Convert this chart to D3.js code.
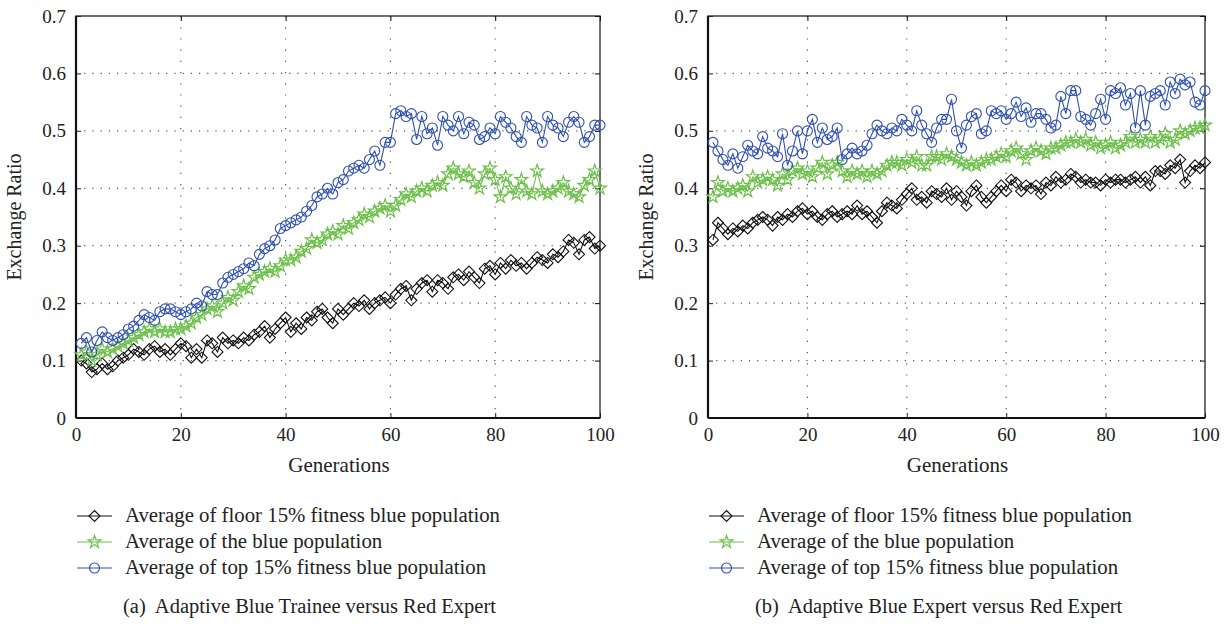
<!DOCTYPE html>
<html>
<head>
<meta charset="utf-8">
<script src="https://cdn.jsdelivr.net/npm/d3@7"></script>
<style>
  body { margin: 0; background: #fff; }
  svg text { font-family: "Liberation Serif", "DejaVu Serif", serif; fill: #222; white-space: pre; }
</style>
</head>
<body>
<div id="chart"></div>
<script>
// generations 1..100
const generations = d3.range(1, 101);
const xTicks = [0, 20, 40, 60, 80, 100];
const yTicks = [0, 0.1, 0.2, 0.3, 0.4, 0.5, 0.6, 0.7];
const seriesNames = [
  "Average of floor 15% fitness blue population",
  "Average of the blue population",
  "Average of top 15% fitness blue population"
];
const captions = [
  "(a)  Adaptive Blue Trainee versus Red Expert",
  "(b)  Adaptive Blue Expert versus Red Expert"
];

// (a) trainee vs expert
const aFloor = [
  0.10, 0.095, 0.08, 0.085, 0.095, 0.085, 0.09, 0.10, 0.105, 0.11,
  0.12, 0.115, 0.11, 0.12, 0.125, 0.115, 0.12, 0.11, 0.12, 0.13,
  0.125, 0.105, 0.12, 0.105, 0.135, 0.13, 0.115, 0.14, 0.13, 0.135,
  0.13, 0.14, 0.135, 0.145, 0.15, 0.16, 0.14, 0.155, 0.165, 0.175,
  0.15, 0.165, 0.155, 0.175, 0.17, 0.185, 0.19, 0.175, 0.165, 0.19,
  0.18, 0.19, 0.2, 0.195, 0.205, 0.19, 0.2, 0.205, 0.21, 0.2,
  0.215, 0.225, 0.23, 0.205, 0.225, 0.235, 0.24, 0.22, 0.24, 0.235,
  0.225, 0.245, 0.25, 0.24, 0.255, 0.245, 0.235, 0.26, 0.265, 0.25,
  0.27, 0.26, 0.275, 0.265, 0.27, 0.26, 0.27, 0.28, 0.275, 0.27,
  0.285, 0.28, 0.29, 0.31, 0.305, 0.285, 0.31, 0.315, 0.295, 0.30
];
const aMean = [
  0.11, 0.115, 0.10, 0.11, 0.12, 0.115, 0.12, 0.125, 0.13, 0.135,
  0.14, 0.145, 0.15, 0.155, 0.15, 0.155, 0.15, 0.15, 0.155, 0.155,
  0.16, 0.165, 0.175, 0.18, 0.19, 0.195, 0.185, 0.2, 0.21, 0.205,
  0.22, 0.23, 0.225, 0.245, 0.25, 0.255, 0.26, 0.255, 0.265, 0.275,
  0.275, 0.28, 0.29, 0.295, 0.31, 0.305, 0.31, 0.32, 0.325, 0.32,
  0.335, 0.33, 0.34, 0.345, 0.355, 0.35, 0.36, 0.365, 0.37, 0.36,
  0.37, 0.38, 0.39, 0.385, 0.395, 0.40, 0.395, 0.405, 0.41, 0.405,
  0.425, 0.435, 0.425, 0.42, 0.43, 0.41, 0.40, 0.425, 0.435, 0.415,
  0.385, 0.42, 0.40, 0.39, 0.415, 0.395, 0.39, 0.43, 0.395, 0.39,
  0.395, 0.40, 0.41, 0.395, 0.39, 0.385, 0.405, 0.415, 0.43, 0.40
];
const aTop = [
  0.13, 0.14, 0.115, 0.135, 0.15, 0.14, 0.135, 0.14, 0.145, 0.155,
  0.16, 0.17, 0.18, 0.175, 0.17, 0.185, 0.19, 0.19, 0.185, 0.18,
  0.185, 0.19, 0.2, 0.195, 0.22, 0.215, 0.215, 0.235, 0.245, 0.25,
  0.255, 0.26, 0.27, 0.265, 0.285, 0.295, 0.3, 0.31, 0.33, 0.335,
  0.34, 0.345, 0.35, 0.36, 0.37, 0.385, 0.39, 0.4, 0.39, 0.41,
  0.415, 0.43, 0.435, 0.44, 0.435, 0.45, 0.465, 0.44, 0.48, 0.48,
  0.53, 0.535, 0.525, 0.53, 0.485, 0.525, 0.495, 0.505, 0.475, 0.525,
  0.51, 0.50, 0.525, 0.495, 0.515, 0.51, 0.485, 0.49, 0.505, 0.495,
  0.525, 0.515, 0.505, 0.49, 0.48, 0.525, 0.51, 0.505, 0.48, 0.525,
  0.51, 0.505, 0.49, 0.515, 0.525, 0.515, 0.48, 0.49, 0.51, 0.51
];

// (b) expert vs expert
const bFloor = [
  0.31, 0.34, 0.33, 0.32, 0.33, 0.325, 0.335, 0.33, 0.34, 0.345,
  0.35, 0.345, 0.335, 0.35, 0.345, 0.355, 0.35, 0.36, 0.365, 0.355,
  0.36, 0.35, 0.345, 0.355, 0.36, 0.35, 0.355, 0.36, 0.355, 0.37,
  0.355, 0.36, 0.35, 0.34, 0.36, 0.375, 0.37, 0.365, 0.38, 0.39,
  0.4, 0.38, 0.385, 0.375, 0.395, 0.39, 0.385, 0.4, 0.38, 0.395,
  0.385, 0.37, 0.395, 0.405, 0.385, 0.375, 0.385, 0.395, 0.405, 0.395,
  0.415, 0.41, 0.395, 0.405, 0.4, 0.405, 0.39, 0.41, 0.405, 0.42,
  0.41, 0.415, 0.425, 0.42, 0.41, 0.415, 0.41, 0.41, 0.405, 0.415,
  0.41, 0.415, 0.415, 0.41, 0.415, 0.42, 0.41, 0.42, 0.405, 0.43,
  0.43, 0.425, 0.44, 0.435, 0.45, 0.41, 0.43, 0.44, 0.435, 0.445
];
const bMean = [
  0.385, 0.41, 0.395, 0.40, 0.395, 0.40, 0.405, 0.395, 0.42, 0.41,
  0.415, 0.42, 0.415, 0.405, 0.425, 0.415, 0.43, 0.435, 0.425, 0.43,
  0.42, 0.435, 0.445, 0.425, 0.44, 0.445, 0.43, 0.42, 0.43, 0.425,
  0.43, 0.42, 0.43, 0.425, 0.43, 0.44, 0.445, 0.445, 0.44, 0.45,
  0.445, 0.455, 0.44, 0.44, 0.455, 0.455, 0.45, 0.46, 0.455, 0.45,
  0.445, 0.44, 0.445, 0.44, 0.445, 0.45, 0.45, 0.455, 0.46, 0.455,
  0.465, 0.47, 0.46, 0.45, 0.465, 0.47, 0.465, 0.46, 0.47, 0.47,
  0.475, 0.48, 0.48, 0.485, 0.48, 0.485, 0.475, 0.48, 0.47, 0.475,
  0.48, 0.47, 0.475, 0.48, 0.49, 0.48, 0.485, 0.48, 0.49, 0.48,
  0.485, 0.495, 0.48, 0.485, 0.5, 0.495, 0.5, 0.505, 0.505, 0.51
];
const bTop = [
  0.48, 0.465, 0.45, 0.44, 0.46, 0.435, 0.455, 0.475, 0.465, 0.46,
  0.49, 0.47, 0.465, 0.455, 0.495, 0.44, 0.465, 0.5, 0.46, 0.5,
  0.52, 0.48, 0.505, 0.485, 0.49, 0.505, 0.45, 0.46, 0.47, 0.46,
  0.465, 0.475, 0.495, 0.51, 0.5, 0.495, 0.505, 0.5, 0.52, 0.51,
  0.5, 0.535, 0.51, 0.495, 0.48, 0.505, 0.52, 0.52, 0.555, 0.5,
  0.47, 0.51, 0.525, 0.53, 0.495, 0.5, 0.535, 0.53, 0.535, 0.52,
  0.53, 0.55, 0.525, 0.54, 0.515, 0.53, 0.53, 0.52, 0.505, 0.51,
  0.56, 0.53, 0.57, 0.57, 0.525, 0.52, 0.51, 0.53, 0.555, 0.52,
  0.57, 0.565, 0.575, 0.545, 0.565, 0.505, 0.57, 0.51, 0.56, 0.565,
  0.57, 0.545, 0.585, 0.565, 0.59, 0.58, 0.585, 0.55, 0.545, 0.57
];

const colors = ["#111111", "#6cc04a", "#2e4fae"];
const shapes = ["diamond", "star", "circle"];

const svg = d3.select("#chart").append("svg")
  .attr("width", 1227)
  .attr("height", 624);

//marker path for each shape
function marker(sel, shape, color) {
  if (shape === "circle") {
    sel.append("circle").attr("r", 5)
      .attr("fill", "none").attr("stroke", color).attr("stroke-width", 1.1);
  } else if (shape === "diamond") {
    sel.append("path").attr("d", "M0,-5.5L5.5,0L0,5.5L-5.5,0Z")
      .attr("fill", "none").attr("stroke", color).attr("stroke-width", 1.1);
  } else {
    sel.append("path").attr("d", d3.symbol(d3.symbolStar, 50)())
      .attr("fill", "none").attr("stroke", color).attr("stroke-width", 1.2);
  }
}

function panel(left, right, series, caption) {
  const top = 16, bottom = 418;
  const x = d3.scaleLinear().domain([0, 100]).range([left, right]);
  const y = d3.scaleLinear().domain([0, 0.7]).range([bottom, top]);
  const g = svg.append("g");

  // dotted grid
  g.selectAll(".gx").data(xTicks.slice(1, -1)).enter().append("line")
    .attr("x1", d => x(d)).attr("x2", d => x(d))
    .attr("y1", top).attr("y2", bottom)
    .attr("stroke", "#555").attr("stroke-width", 1.2)
    .attr("stroke-dasharray", "1.2,10");
  g.selectAll(".gy").data(yTicks.slice(1, -1)).enter().append("line")
    .attr("x1", left).attr("x2", right)
    .attr("y1", d => y(d)).attr("y2", d => y(d))
    .attr("stroke", "#555").attr("stroke-width", 1.2)
    .attr("stroke-dasharray", "1.2,7");

  // axes
  const xAxis = d3.axisBottom(x).tickValues(xTicks).tickSize(-5).tickPadding(10);
  const yAxis = d3.axisLeft(y).tickValues(yTicks).tickSize(-5).tickPadding(10)
    .tickFormat(d => d === 0 ? "0" : d3.format(".1f")(d));
  const xa = g.append("g").attr("transform", `translate(0,${bottom})`).call(xAxis);
  const ya = g.append("g").attr("transform", `translate(${left},0)`).call(yAxis);
  [xa, ya].forEach(a => {
    a.select(".domain").remove();
    a.selectAll("text").attr("font-size", 19).attr("font-family", "Liberation Serif").attr("fill", "#222");
    a.selectAll("line").attr("stroke", "#222");
  });
  // mirrored ticks on top and right
  g.append("g").attr("transform", `translate(0,${top})`)
    .call(d3.axisTop(x).tickValues(xTicks).tickSize(-5).tickFormat(""))
    .call(a => a.select(".domain").remove());
  g.append("g").attr("transform", `translate(${right},0)`)
    .call(d3.axisRight(y).tickValues(yTicks).tickSize(-5).tickFormat(""))
    .call(a => a.select(".domain").remove());

  // frame
  g.append("rect").attr("x", left).attr("y", top)
    .attr("width", right - left).attr("height", bottom - top)
    .attr("fill", "none").attr("stroke", "#222").attr("stroke-width", 1.3);
  g.append("line").attr("x1", left).attr("x2", left).attr("y1", top).attr("y2", bottom)
    .attr("stroke", "#111").attr("stroke-width", 2.2);
  g.append("line").attr("x1", left).attr("x2", right).attr("y1", bottom).attr("y2", bottom)
    .attr("stroke", "#111").attr("stroke-width", 2);

  // axis titles
  g.append("text").attr("x", (left + right) / 2 + 1).attr("y", 472)
    .attr("text-anchor", "middle").attr("font-size", 21).text("Generations");
  g.append("text")
    .attr("transform", `translate(${left - 55},${(top + bottom) / 2}) rotate(-90)`)
    .attr("text-anchor", "middle").attr("font-size", 20).text("Exchange Ratio");

  const line = d3.line().x((d, i) => x(generations[i])).y(d => y(d));

  series.forEach((vals, k) => {
    g.append("path").datum(vals)
      .attr("d", line).attr("fill", "none")
      .attr("stroke", colors[k]).attr("stroke-width", 1.1);
    const m = g.selectAll(".m" + k).data(vals).enter().append("g")
      .attr("transform", (d, i) => `translate(${x(generations[i])},${y(d)})`);
    marker(m, shapes[k], colors[k]);
  });

  // legend
  const lg = g.append("g").attr("transform", `translate(${left + 1},516)`);
  seriesNames.forEach((name, k) => {
    const row = lg.append("g").attr("transform", `translate(0,${k * 26})`);
    row.append("line").attr("x1", 0).attr("x2", 35).attr("stroke", colors[k]).attr("stroke-width", 1.1);
    marker(row.append("g").attr("transform", "translate(17.5,0)"), shapes[k], colors[k]);
    row.append("text").attr("x", 48).attr("y", 6).attr("font-size", 20.8).text(name);
  });

  g.append("text").attr("x", left + 47).attr("y", 613)
    .attr("font-size", 20.5).text(caption);
}

panel(76, 600, [aFloor, aMean, aTop], captions[0]);
panel(708, 1205, [bFloor, bMean, bTop], captions[1]);
</script>
</body>
</html>
